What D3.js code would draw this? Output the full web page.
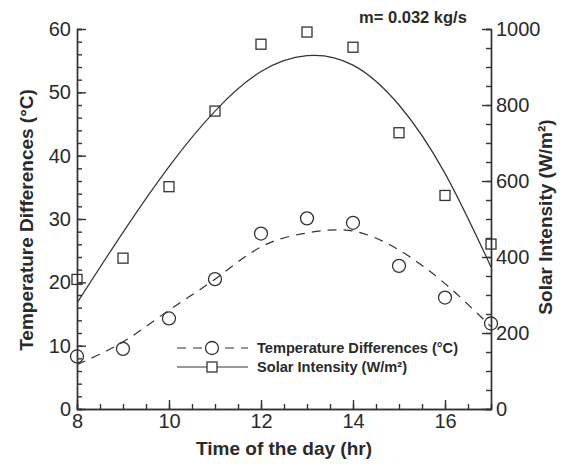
<!DOCTYPE html>
<meta charset="utf-8">
<script src="https://d3js.org/d3.v7.min.js"></script>
<style>
  body { margin: 0; background: #fff; }
  text { font-family: Arial, "Liberation Sans", sans-serif; fill: #2a2a2a; }
</style>
<div id="chart"></div>
<script>
  // data
  const hours = [8, 9, 10, 11, 12, 13, 14, 15, 16, 17];
  const tempDiff = [8.3, 9.5, 14.3, 20.5, 27.7, 30.1, 29.4, 22.6, 17.6, 13.5];
  const solar = [341, 397, 585, 784, 960, 992, 952, 727, 562, 434];
  // fitted trend lines
  const tempFit = [7.0, 10.6, 15.6, 20.5, 25.6, 27.8, 28.1, 25.1, 19.8, 13.0];
  const solarFit = [279, 465, 638, 784, 888, 930, 905, 800, 620, 374];

  const xTicks = [8, 10, 12, 14, 16];
  const leftTicks = [0, 10, 20, 30, 40, 50, 60];
  const rightTicks = [0, 200, 400, 600, 800, 1000];
  const legendLabels = ["Temperature Differences (°C)", "Solar Intensity (W/m²)"];

  const W = 572, H = 464;
  const pL = 77, pR = 491, pT = 29, pB = 409;
  const ink = "#333";

  const svg = d3.select("#chart").append("svg")
    .attr("width", W).attr("height", H);

  const x = d3.scaleLinear().domain([8, 17]).range([pL, pR]);
  const yL = d3.scaleLinear().domain([0, 60]).range([pB, pT]);
  const yR = d3.scaleLinear().domain([0, 1000]).range([pB, pT]);

  svg.append("clipPath").attr("id", "plot")
    .append("rect").attr("x", pL).attr("y", pT)
    .attr("width", pR - pL).attr("height", pB - pT);

  // minor ticks
  const minor = (g) => g.selectAll("text").remove();
  svg.append("g").attr("transform", `translate(0,${pB})`)
    .call(d3.axisTop(x).tickValues(d3.range(8, 17.01, 0.5)).tickSize(5).tickFormat(""))
    .call(minor);
  svg.append("g").attr("transform", `translate(${pL},0)`)
    .call(d3.axisRight(yL).tickValues(d3.range(0, 61, 2)).tickSize(5).tickFormat(""))
    .call(minor);
  svg.append("g").attr("transform", `translate(${pR},0)`)
    .call(d3.axisLeft(yR).tickValues(d3.range(0, 1001, 50)).tickSize(5).tickFormat(""))
    .call(minor);

  // major ticks + labels
  const xAxis = svg.append("g").attr("transform", `translate(0,${pB})`)
    .call(d3.axisTop(x).tickValues(xTicks).tickSize(9).tickSizeOuter(0));
  xAxis.selectAll("text").attr("y", 18.5).attr("dy", "0");

  const lAxis = svg.append("g").attr("transform", `translate(${pL},0)`)
    .call(d3.axisRight(yL).tickValues(leftTicks).tickSize(9).tickSizeOuter(0));
  lAxis.selectAll("text").attr("x", -6).attr("text-anchor", "end");

  const rAxis = svg.append("g").attr("transform", `translate(${pR},0)`)
    .call(d3.axisLeft(yR).tickValues(rightTicks).tickFormat(d3.format("d")).tickSize(9).tickSizeOuter(0));
  rAxis.selectAll("text").attr("x", 5).attr("text-anchor", "start");

  svg.selectAll(".tick text").style("font-size", "20px").attr("fill", "#2a2a2a");
  svg.selectAll(".domain, .tick line").attr("stroke", ink).attr("stroke-width", 1.4);

  // trend lines
  const line = (ys, sc) => d3.line().curve(d3.curveNatural)
    .x((d, i) => x(hours[i])).y(d => sc(d))(ys);

  svg.append("path").attr("d", line(solarFit, yR))
    .attr("clip-path", "url(#plot)")
    .attr("fill", "none").attr("stroke", ink).attr("stroke-width", 1.2);
  svg.append("path").attr("d", line(tempFit, yL))
    .attr("clip-path", "url(#plot)")
    .attr("fill", "none").attr("stroke", ink).attr("stroke-width", 1.2)
    .attr("stroke-dasharray", "9,7");

  // markers
  svg.append("g").selectAll("circle").data(tempDiff).join("circle")
    .attr("cx", (d, i) => x(hours[i])).attr("cy", d => yL(d)).attr("r", 6.5)
    .attr("fill", "none").attr("stroke", ink).attr("stroke-width", 1.3);
  svg.append("g").selectAll("rect").data(solar).join("rect")
    .attr("x", (d, i) => x(hours[i]) - 5).attr("y", d => yR(d) - 5)
    .attr("width", 10).attr("height", 10)
    .attr("fill", "none").attr("stroke", ink).attr("stroke-width", 1.3);

  // legend
  const lg = svg.append("g").attr("transform", "translate(177,348)");
  lg.append("line").attr("x1", 0).attr("x2", 71).attr("y1", 0).attr("y2", 0)
    .attr("stroke", ink).attr("stroke-width", 1.2).attr("stroke-dasharray", "9,7");
  lg.append("circle").attr("cx", 35).attr("cy", 0).attr("r", 6.5)
    .attr("fill", "#fff").attr("stroke", ink).attr("stroke-width", 1.3);
  lg.append("line").attr("x1", 0).attr("x2", 71).attr("y1", 19).attr("y2", 19)
    .attr("stroke", ink).attr("stroke-width", 1.2);
  lg.append("rect").attr("x", 30).attr("y", 14).attr("width", 10).attr("height", 10)
    .attr("fill", "#fff").attr("stroke", ink).attr("stroke-width", 1.3);
  lg.selectAll("text.lab").data(legendLabels).join("text").attr("class", "lab")
    .attr("x", 80).attr("y", (d, i) => i * 19).attr("dy", "0.35em")
    .style("font-size", "14.6px").style("font-weight", "bold")
    .text(d => d);

  // titles
  svg.append("text").attr("x", 284).attr("y", 455)
    .attr("text-anchor", "middle").style("font-size", "19px").style("font-weight", "bold")
    .text("Time of the day (hr)");
  svg.append("text").attr("transform", `translate(33,220) rotate(-90)`)
    .attr("text-anchor", "middle").style("font-size", "19px").style("font-weight", "bold")
    .text("Temperature Differences (°C)");
  svg.append("text").attr("transform", `translate(552,217) rotate(-90)`)
    .attr("text-anchor", "middle").style("font-size", "19px").style("font-weight", "bold")
    .text("Solar Intensity (W/m²)");
  svg.append("text").attr("x", 413).attr("y", 23)
    .attr("text-anchor", "middle").style("font-size", "16.5px").style("font-weight", "bold")
    .text("m= 0.032 kg/s");
</script>
